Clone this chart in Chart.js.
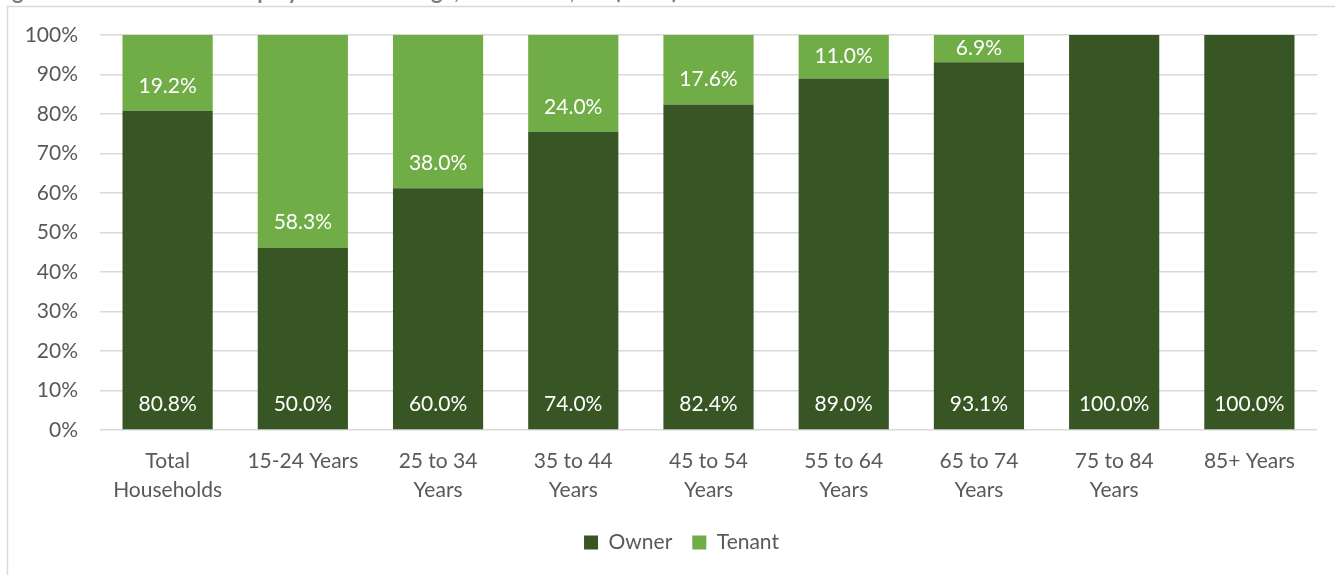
<!DOCTYPE html>
<html>
<head>
<meta charset="utf-8">
<script src="https://cdn.jsdelivr.net/npm/chart.js@4"></script>
<style>
  html, body { margin: 0; padding: 0; background: #fff; }
  #wrap { width: 1335px; height: 575px; position: relative; }
</style>
</head>
<body>
<div id="wrap"><canvas id="bar-chart"></canvas></div>
<script>
// datos
const ageGroups = [['Total', 'Households'], '15-24 Years', ['25 to 34', 'Years'], ['35 to 44', 'Years'],
  ['45 to 54', 'Years'], ['55 to 64', 'Years'], ['65 to 74', 'Years'], ['75 to 84', 'Years'], '85+ Years'];
const owner = [80.8, 50.0, 60.0, 74.0, 82.4, 89.0, 93.1, 100.0, 100.0];
const tenant = [19.2, 58.3, 38.0, 24.0, 17.6, 11.0, 6.9, 0, 0];
const yTicks = [0, 10, 20, 30, 40, 50, 60, 70, 80, 90, 100];

const titleText = 'Figure 4.3 Home Ownership by Household Age, Mackenzie, BC (2021)';

// grafico 100% apilado: cada columna se normaliza a 100
const ownerShare = owner.map((v, i) => v / (v + tenant[i]) * 100);
const tenantShare = tenant.map((v, i) => v / (owner[i] + v) * 100);

const rawValues = [owner, tenant];

const FONT = "Lato, 'Open Sans', sans-serif";
Chart.defaults.font.family = FONT;
Chart.defaults.color = '#595959';

// marco y titulo cortado arriba
const framePlugin = {
  id: 'frame',
  afterLayout(chart) {
    // la leyenda va un poco a la derecha, como en el original
    chart.legend.left += 23;
    chart.legend.right += 23;
  },
  beforeDraw(chart) {
    const ctx = chart.ctx;
    ctx.save();
    ctx.fillStyle = '#fff';
    ctx.fillRect(0, 0, chart.width, chart.height);
    ctx.strokeStyle = '#d9d9d9';
    ctx.lineWidth = 1.5;
    ctx.strokeRect(7.5, 6.5, chart.width + 20, chart.height + 20);
    ctx.font = "bold 22px " + FONT;
    ctx.fillStyle = '#7f7f7f';
    ctx.textBaseline = 'alphabetic';
    ctx.fillText(titleText, -6, -1);
    ctx.restore();
  }
};

// etiquetas de datos en la base de cada segmento
const labelPlugin = {
  id: 'barLabels',
  afterDatasetsDraw(chart) {
    const ctx = chart.ctx;
    ctx.save();
    ctx.font = "21px " + FONT;
    ctx.fillStyle = '#ffffff';
    ctx.textAlign = 'center';
    ctx.textBaseline = 'middle';
    chart.data.datasets.forEach((ds, di) => {
      const meta = chart.getDatasetMeta(di);
      meta.data.forEach((bar, i) => {
        const raw = rawValues[di][i];
        if (!raw) return;
        const top = bar.y, base = bar.base;
        let y = base - 25;
        if (base - top < 56) y = (top + base) / 2;
        ctx.fillText(raw.toFixed(1) + '%', bar.x, y);
      });
    });
    ctx.restore();
  }
};

new Chart(document.getElementById('bar-chart'), {
  type: 'bar',
  data: {
    labels: ageGroups,
    datasets: [
      { label: 'Owner', data: ownerShare, backgroundColor: '#375623' },
      { label: 'Tenant', data: tenantShare, backgroundColor: '#70ad47' }
    ]
  },
  options: {
    responsive: true,
    maintainAspectRatio: false,
    animation: false,
    barPercentage: 1,
    categoryPercentage: 0.667,
    layout: { padding: { top: 35, right: 18, left: 0, bottom: 12 } },
    plugins: {
      legend: {
        position: 'bottom',
        labels: {
          color: '#595959',
          font: { size: 21 },
          boxWidth: 14,
          boxHeight: 14,
          padding: 20
        }
      },
      tooltip: { enabled: false }
    },
    scales: {
      x: {
        stacked: true,
        grid: { display: false },
        border: { display: false },
        ticks: { color: '#595959', font: { size: 21, lineHeight: 1.38 }, padding: 9, maxRotation: 0, autoSkip: false },
        afterFit: s => { s.height = 82; }
      },
      y: {
        stacked: true,
        min: 0,
        max: 100,
        afterBuildTicks: s => { s.ticks = yTicks.map(v => ({ value: v })); },
        ticks: { color: '#595959', font: { size: 21 }, padding: 22, callback: v => v + '%' },
        grid: { color: '#d9d9d9', lineWidth: 1.5, drawTicks: false },
        border: { display: false },
        afterFit: s => { s.width = 100; }
      }
    }
  },
  plugins: [framePlugin, labelPlugin]
});
</script>
</body>
</html>
